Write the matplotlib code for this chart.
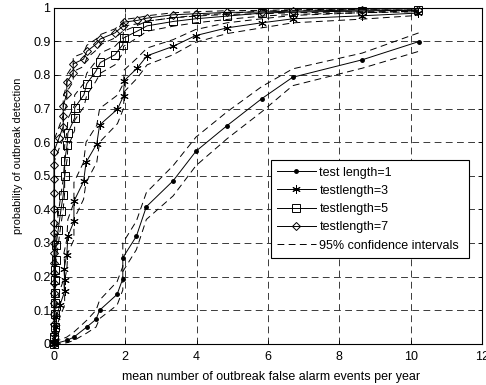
import matplotlib
matplotlib.use("Agg")
import matplotlib.pyplot as plt

plt.rcParams['font.family'] = ['Liberation Sans', 'DejaVu Sans']

# test length = 1
x1 = [0, 0.36, 0.56, 0.92, 1.18, 1.28, 1.77, 1.93, 1.93, 2.31, 2.59, 3.34, 3.98, 4.85, 5.82, 6.69, 8.64, 10.22]
y1 = [0, 0.01, 0.02, 0.05, 0.073, 0.10, 0.147, 0.194, 0.256, 0.32, 0.408, 0.485, 0.573, 0.649, 0.729, 0.793, 0.845, 0.899]
u1 = [0.005, 0.02, 0.035, 0.07, 0.1, 0.13, 0.185, 0.23, 0.3, 0.365, 0.45, 0.53, 0.615, 0.69, 0.765, 0.818, 0.865, 0.925]
l1 = [0, 0.003, 0.01, 0.032, 0.05, 0.075, 0.115, 0.16, 0.215, 0.28, 0.37, 0.44, 0.53, 0.61, 0.69, 0.768, 0.82, 0.87]

# test length = 3
x3 = [0, 0.03, 0.04, 0.05, 0.07, 0.17, 0.30, 0.30, 0.28, 0.36, 0.39, 0.56, 0.56, 0.83, 0.90, 1.20, 1.28, 1.78,
      1.95, 1.97, 2.33, 2.61, 3.34, 3.97, 4.85, 5.82, 6.70, 8.64, 10.20]
y3 = [0, 0.01, 0.03, 0.05, 0.08, 0.116, 0.156, 0.19, 0.222, 0.265, 0.32, 0.364, 0.424, 0.483, 0.54, 0.595, 0.651,
      0.698, 0.738, 0.783, 0.82, 0.857, 0.885, 0.917, 0.94, 0.955, 0.967, 0.976, 0.984]
u3 = [0.005, 0.02, 0.05, 0.08, 0.12, 0.16, 0.2, 0.235, 0.27, 0.31, 0.37, 0.42, 0.48, 0.54, 0.6, 0.65, 0.7, 0.74,
      0.775, 0.815, 0.85, 0.88, 0.905, 0.935, 0.955, 0.967, 0.977, 0.985, 0.99]
l3 = [0, 0.003, 0.015, 0.03, 0.05, 0.08, 0.115, 0.15, 0.18, 0.22, 0.27, 0.31, 0.37, 0.43, 0.48, 0.54, 0.6, 0.655,
      0.7, 0.75, 0.79, 0.83, 0.86, 0.897, 0.923, 0.94, 0.955, 0.966, 0.977]

# test length = 5
x5 = [0, 0.01, 0.02, 0.02, 0.03, 0.03, 0.04, 0.04, 0.05, 0.06, 0.12, 0.19, 0.26, 0.30, 0.30, 0.37, 0.39, 0.58,
      0.58, 0.84, 0.92, 1.17, 1.30, 1.71, 1.93, 1.95, 2.33, 2.61, 3.34, 3.97, 4.85, 5.82, 6.70, 8.64, 10.20]
y5 = [0, 0.02, 0.05, 0.09, 0.12, 0.15, 0.19, 0.22, 0.25, 0.295, 0.34, 0.394, 0.443, 0.498, 0.543, 0.592, 0.627,
      0.672, 0.702, 0.741, 0.774, 0.81, 0.837, 0.86, 0.89, 0.91, 0.93, 0.946, 0.959, 0.967, 0.975, 0.984, 0.987,
      0.99, 0.993]
u5 = [0.01, 0.04, 0.08, 0.12, 0.155, 0.19, 0.23, 0.26, 0.29, 0.34, 0.385, 0.44, 0.49, 0.545, 0.59, 0.635, 0.67,
      0.71, 0.74, 0.775, 0.805, 0.84, 0.865, 0.885, 0.91, 0.93, 0.947, 0.96, 0.97, 0.977, 0.983, 0.99, 0.992,
      0.995, 0.997]
l5 = [0, 0.005, 0.025, 0.06, 0.09, 0.115, 0.15, 0.18, 0.21, 0.25, 0.295, 0.35, 0.4, 0.45, 0.5, 0.55, 0.585,
      0.635, 0.665, 0.705, 0.74, 0.78, 0.805, 0.83, 0.865, 0.885, 0.91, 0.93, 0.945, 0.955, 0.965, 0.975, 0.98,
      0.985, 0.988]

# test length = 7
x7 = [0, 0, 0, 0, 0, 0, 0, 0, 0, 0, 0, 0, 0, 0, 0, 0, 0, 0,
      0.14, 0.26, 0.26, 0.26, 0.36, 0.36, 0.54, 0.54, 0.83, 0.92, 1.20, 1.30, 1.71, 1.93, 1.95, 2.33, 2.61,
      3.34, 3.97, 4.85, 5.82, 6.70, 8.64, 10.20]
y7 = [0, 0.03, 0.06, 0.09, 0.12, 0.15, 0.18, 0.21, 0.24, 0.27, 0.30, 0.33, 0.36, 0.40, 0.45, 0.49, 0.533, 0.572,
      0.612, 0.646, 0.679, 0.708, 0.744, 0.778, 0.807, 0.833, 0.847, 0.87, 0.893, 0.907, 0.925, 0.945, 0.957,
      0.962, 0.969, 0.979, 0.982, 0.986, 0.987, 0.99, 0.993, 0.992]
u7 = [0.01, 0.05, 0.08, 0.115, 0.145, 0.175, 0.21, 0.24, 0.27, 0.3, 0.335, 0.365, 0.395, 0.435, 0.485, 0.525,
      0.565, 0.605, 0.645, 0.68, 0.71, 0.735, 0.77, 0.8, 0.83, 0.853, 0.865, 0.888, 0.908, 0.92, 0.937, 0.955,
      0.965, 0.97, 0.976, 0.985, 0.988, 0.991, 0.992, 0.994, 0.996, 0.996]
l7 = [0, 0.015, 0.04, 0.065, 0.095, 0.125, 0.15, 0.18, 0.21, 0.24, 0.27, 0.3, 0.33, 0.365, 0.415, 0.455, 0.5,
      0.54, 0.58, 0.61, 0.645, 0.675, 0.715, 0.75, 0.78, 0.81, 0.825, 0.85, 0.875, 0.89, 0.91, 0.93, 0.945,
      0.952, 0.96, 0.97, 0.975, 0.98, 0.982, 0.985, 0.988, 0.988]

xticks = [0, 2, 4, 6, 8, 10, 12]
yticks = [0, 0.1, 0.2, 0.3, 0.4, 0.5, 0.6, 0.7, 0.8, 0.9, 1]
ytick_labels = ['0', '0.1', '0.2', '0.3', '0.4', '0.5', '0.6', '0.7', '0.8', '0.9', '1']

fig = plt.figure(figsize=(4.86, 3.85), dpi=100)
ax = fig.add_axes([0.111, 0.107, 0.881, 0.873])

dash = (0, (7, 4.5))
lw = 0.7
h1, = ax.plot(x1, y1, '-', color='k', lw=lw, marker='o', ms=2.5, clip_on=False, label='test length=1')
h3, = ax.plot(x3, y3, '-', color='k', lw=lw, marker=(6, 2, 0), ms=6, mew=0.7, clip_on=False,
              label='testlength=3')
h5, = ax.plot(x5, y5, '-', color='k', lw=lw, marker='s', ms=5.5, mfc='none', mew=0.7, clip_on=False,
              label='testlength=5')
h7, = ax.plot(x7, y7, '-', color='k', lw=lw, marker='D', ms=4.5, mfc='none', mew=0.7, clip_on=False,
              label='testlength=7')
hci = None
for xs, us, ls in [(x1, u1, l1), (x3, u3, l3), (x5, u5, l5), (x7, u7, l7)]:
    hci, = ax.plot(xs, us, color='k', lw=lw, linestyle=dash, label='95% confidence intervals')
    ax.plot(xs, ls, color='k', lw=lw, linestyle=dash)

ax.set_xlim(0, 12)
ax.set_ylim(0, 1)
ax.set_xticks(xticks)
ax.set_yticks(yticks)
ax.set_yticklabels(ytick_labels)
ax.grid(True, color='#3a3a3a', linestyle=dash, lw=0.7)
ax.tick_params(direction='in', top=True, right=True, labelsize=9, length=3, width=0.6)
ax.tick_params(axis='x', pad=5)
ax.tick_params(axis='y', pad=2.5)
for s in ax.spines.values():
    s.set_linewidth(0.8)

ax.set_xlabel('mean number of outbreak false alarm events per year', fontsize=9)
ax.xaxis.set_label_coords(0.507, -0.082)
ax.set_ylabel('probability of outbreak detection', fontsize=7.8)
ax.yaxis.set_label_coords(-0.072, 0.56)

leg = ax.legend(handles=[h1, h3, h5, h7, hci], loc='lower left', bbox_to_anchor=(0.506, 0.256, 0.464, 0.287),
                mode='expand', fontsize=9, handlelength=3.1, handletextpad=0.3, fancybox=False, framealpha=1,
                edgecolor='k', borderaxespad=0, labelspacing=0.5, borderpad=0.5)
leg.get_frame().set_linewidth(0.8)

fig.savefig('out.png', dpi=100)
